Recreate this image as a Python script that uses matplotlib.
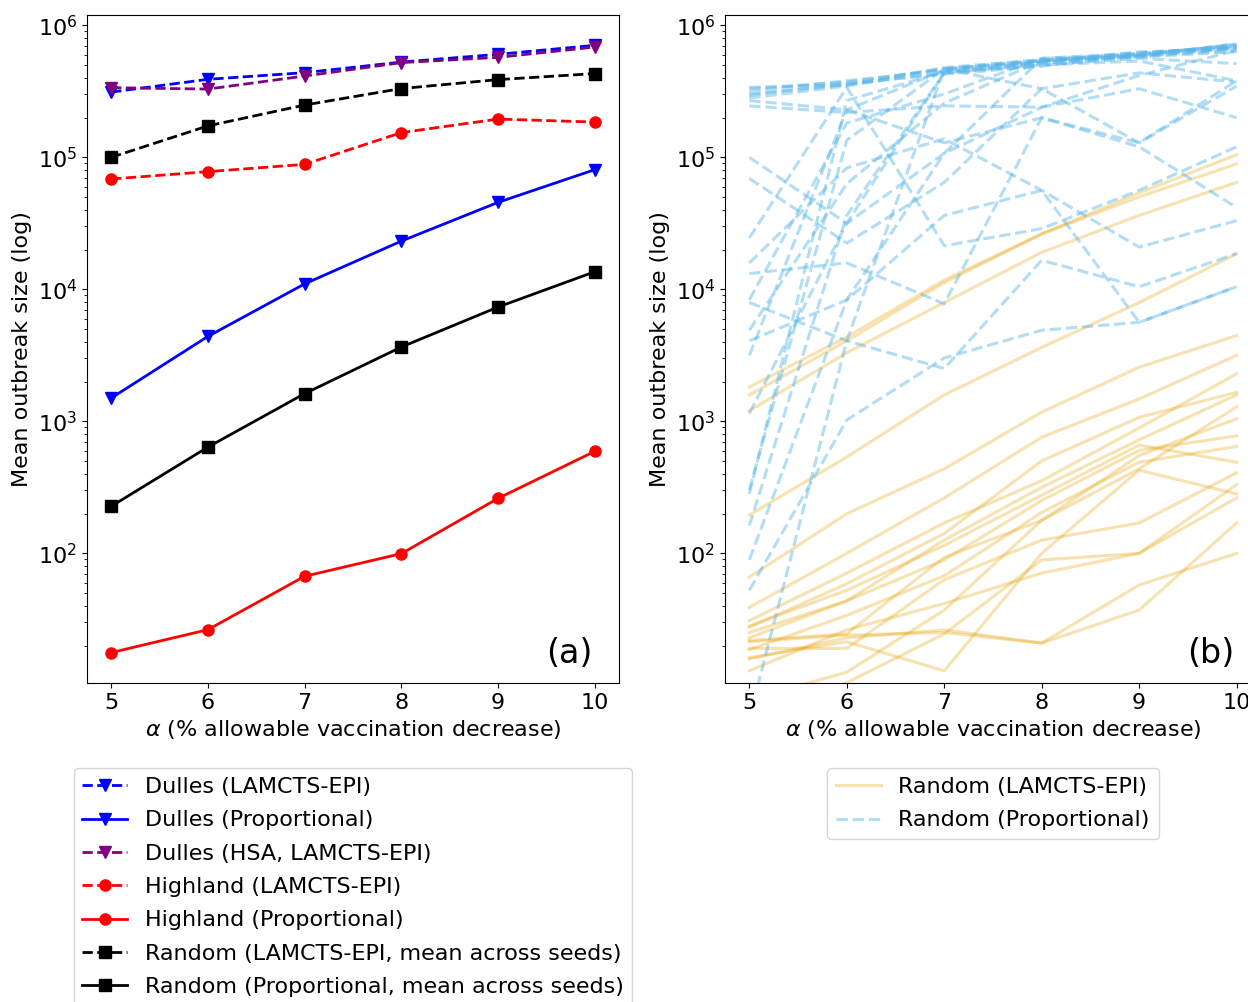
import numpy as np
import matplotlib
matplotlib.use("Agg")
import matplotlib.pyplot as plt

plt.rcParams['font.size'] = 16

# x values: alpha (% allowable vaccination decrease)
alpha = [5, 6, 7, 8, 9, 10]

# panel (a): mean outbreak sizes
dulles_lamcts = [312e3, 390e3, 438e3, 527e3, 603e3, 706e3]
dulles_prop = [1.5e3, 4.4e3, 11.0e3, 23.2e3, 45.6e3, 80.7e3]
dulles_hsa = [337e3, 329e3, 413e3, 522e3, 572e3, 685e3]
highland_lamcts = [68.5e3, 77.9e3, 88.5e3, 154e3, 195e3, 185e3]
highland_prop = [17.7, 26.4, 67, 99.5, 261, 593]
random_lamcts_mean = [100e3, 173e3, 249e3, 332e3, 388e3, 431e3]
random_prop_mean = [227, 638, 1622, 3656, 7346, 13.6e3]

# panel (b): per-seed results, log10 of mean outbreak size
seeds_lamcts_log = [
    [3.26, 3.64, 4.07, 4.42, 4.73, 5.02],
    [3.20, 3.61, 4.05, 4.42, 4.70, 4.95],
    [3.08, 3.52, 3.90, 4.28, 4.56, 4.81],
    [2.29, 2.73, 3.20, 3.56, 3.90, 4.27],
    [1.82, 2.30, 2.64, 3.07, 3.41, 3.65],
    [1.59, 2.00, 2.42, 2.88, 3.17, 3.50],
    [1.49, 1.85, 2.23, 2.55, 2.95, 3.36],
    [1.44, 1.77, 2.15, 2.70, 3.03, 3.22],
    [1.36, 1.64, 2.10, 2.50, 2.86, 3.20],
    [1.28, 1.28, 1.80, 2.10, 2.23, 2.61],
    [1.34, 1.39, 1.97, 2.25, 2.64, 3.11],
    [1.11, 1.42, 1.62, 1.85, 2.00, 2.42],
    [1.20, 1.36, 1.42, 1.32, 1.76, 2.00],
    [1.33, 1.38, 1.40, 1.32, 1.57, 2.23],
    [1.21, 1.33, 1.11, 2.00, 2.63, 2.45],
    [0.75, 1.02, 1.39, 1.95, 2.00, 2.52],
    [0.89, 1.10, 1.57, 2.25, 2.74, 3.02],
    [1.40, 1.64, 1.95, 2.40, 2.78, 2.89],
    [1.27, 1.53, 1.83, 2.31, 2.69, 2.81],
    [1.45, 1.72, 2.06, 2.44, 2.82, 2.69],
]
seeds_prop_log = [
    [5.53, 5.55, 5.68, 5.74, 5.77, 5.86],
    [5.52, 5.57, 5.67, 5.73, 5.76, 5.83],
    [5.50, 5.58, 5.66, 5.72, 5.80, 5.82],
    [5.48, 5.55, 5.64, 5.70, 5.75, 5.71],
    [5.47, 5.56, 5.63, 5.69, 5.78, 5.85],
    [5.45, 5.54, 5.67, 5.52, 5.64, 5.57],
    [5.39, 5.34, 5.39, 5.38, 5.52, 5.30],
    [5.43, 5.36, 5.11, 5.30, 5.08, 4.62],
    [5.00, 4.50, 5.03, 5.38, 5.62, 5.81],
    [4.84, 4.35, 4.81, 5.52, 5.11, 5.54],
    [4.39, 5.53, 4.33, 4.46, 4.75, 5.08],
    [4.20, 4.92, 5.14, 4.75, 4.32, 4.52],
    [4.12, 4.20, 3.89, 5.30, 5.11, 5.58],
    [3.92, 5.26, 5.48, 5.75, 5.79, 5.84],
    [3.90, 3.61, 3.40, 4.22, 4.02, 4.27],
    [3.69, 4.80, 5.41, 5.73, 5.77, 5.83],
    [3.61, 3.92, 4.56, 4.75, 3.75, 4.02],
    [3.50, 5.36, 5.66, 5.73, 5.77, 5.86],
    [3.06, 4.50, 5.64, 5.72, 5.77, 5.81],
    [2.48, 5.13, 5.67, 5.73, 5.79, 5.84],
    [2.45, 5.43, 5.65, 5.71, 5.76, 5.80],
    [2.21, 4.56, 5.64, 5.70, 5.73, 5.58],
    [1.72, 3.01, 3.48, 3.69, 3.75, 4.02],
    [0.75, 3.61, 5.67, 5.74, 5.78, 5.83],
    [1.95, 3.92, 5.03, 5.75, 5.78, 5.85],
]

fig = plt.figure(figsize=(12.48, 10.02), dpi=100)
ax1 = fig.add_axes([0.0697, 0.3184, 0.4263, 0.6667])
ax2 = fig.add_axes([0.5809, 0.3184, 0.4295, 0.6667])

# (a)
ax1.plot(alpha, dulles_lamcts, '--v', color='blue', lw=2, ms=8, label='Dulles (LAMCTS-EPI)')
ax1.plot(alpha, dulles_prop, '-v', color='blue', lw=2, ms=8, label='Dulles (Proportional)')
ax1.plot(alpha, dulles_hsa, '--v', color='purple', lw=2, ms=8, label='Dulles (HSA, LAMCTS-EPI)')
ax1.plot(alpha, highland_lamcts, '--o', color='red', lw=2, ms=8, label='Highland (LAMCTS-EPI)')
ax1.plot(alpha, highland_prop, '-o', color='red', lw=2, ms=8, label='Highland (Proportional)')
ax1.plot(alpha, random_lamcts_mean, '--s', color='black', lw=2, ms=8,
         label='Random (LAMCTS-EPI, mean across seeds)')
ax1.plot(alpha, random_prop_mean, '-s', color='black', lw=2, ms=8,
         label='Random (Proportional, mean across seeds)')
ax1.set_yscale('log')
ax1.set_xlabel(r'$\alpha$ (% allowable vaccination decrease)')
ax1.set_ylabel('Mean outbreak size (log)')
ax1.set_xticks(alpha)
ax1.text(0.95, 0.02, '(a)', transform=ax1.transAxes, ha='right', va='bottom', fontsize=24)
ax1.legend(loc='upper center', bbox_to_anchor=(0.5, -0.111), labelspacing=0.6)

# (b)
for i, s in enumerate(seeds_lamcts_log):
    ax2.plot(alpha, 10 ** np.array(s), '-', color='#E69F00', alpha=0.3, lw=2.2,
             label='Random (LAMCTS-EPI)' if i == 0 else None)
for i, s in enumerate(seeds_prop_log):
    ax2.plot(alpha, 10 ** np.array(s), '--', color='#56B4E9', alpha=0.45, lw=2.2,
             label='Random (Proportional)' if i == 0 else None)
ax2.set_yscale('log')
ax2.set_ylim(ax1.get_ylim())
ax2.set_xlim(ax1.get_xlim())
ax2.set_xticks(alpha)
ax2.set_xlabel(r'$\alpha$ (% allowable vaccination decrease)')
ax2.set_ylabel('Mean outbreak size (log)')
ax2.text(0.95, 0.02, '(b)', transform=ax2.transAxes, ha='right', va='bottom', fontsize=24)
ax2.legend(loc='upper center', bbox_to_anchor=(0.5, -0.111), labelspacing=0.6)

fig.savefig('out.png', dpi=100)
